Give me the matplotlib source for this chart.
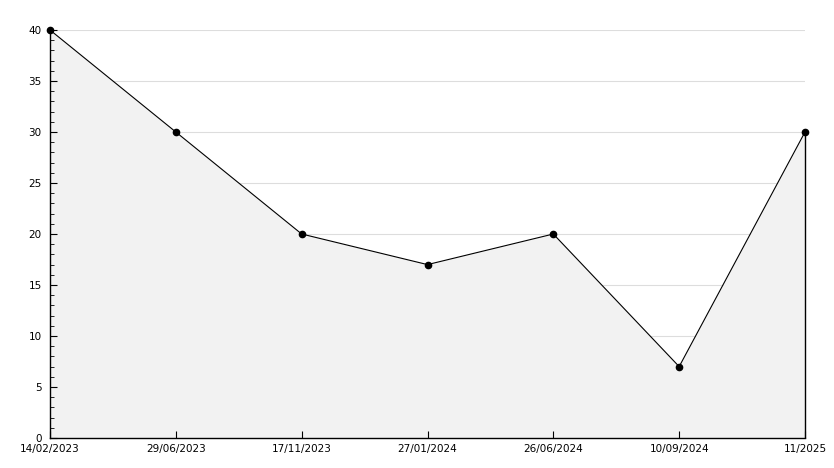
import matplotlib
matplotlib.use("Agg")
import matplotlib.pyplot as plt
import numpy as np

# data
dates = ["14/02/2023", "29/06/2023", "17/11/2023", "27/01/2024",
         "26/06/2024", "10/09/2024", "11/2025"]
values = [40, 30, 20, 17, 20, 7, 30]
yticks = list(range(0, 41, 5))

x = np.arange(len(dates))

fig = plt.figure(figsize=(8.34, 4.68), dpi=100)
ax = fig.add_axes([50/834, 30/468, 755/834, 408/468])

# grid lines sit under the filled area
for yt in yticks[1:]:
    ax.axhline(yt, color="#dddddd", lw=0.8, zorder=0)

ax.fill_between(x, values, 0, color="#f2f2f2", lw=0, zorder=1)
ax.plot(x, values, color="black", lw=0.8, marker="o", ms=4.5, zorder=3, clip_on=False)
ax.vlines(x[-1], 0, values[-1], color="black", lw=1, zorder=3, clip_on=False)

ax.set_xlim(0, len(dates) - 1)
ax.set_ylim(0, 40)
ax.set_xticks(x)
ax.set_xticklabels(dates)
ax.set_yticks(yticks)
ax.set_yticks(range(0, 41, 1), minor=True)

for s in ["top", "right"]:
    ax.spines[s].set_visible(False)
for s in ["left", "bottom"]:
    ax.spines[s].set_linewidth(1)
    ax.spines[s].set_zorder(4)

ax.tick_params(axis="y", which="major", direction="in", length=5, labelsize=7.5, pad=6)
ax.tick_params(axis="y", which="minor", direction="in", length=3)
ax.tick_params(axis="x", direction="in", length=5, labelsize=7.5, pad=4)
ax.xaxis.set_zorder(4)
ax.yaxis.set_zorder(4)

plt.savefig("out.png", dpi=100)
